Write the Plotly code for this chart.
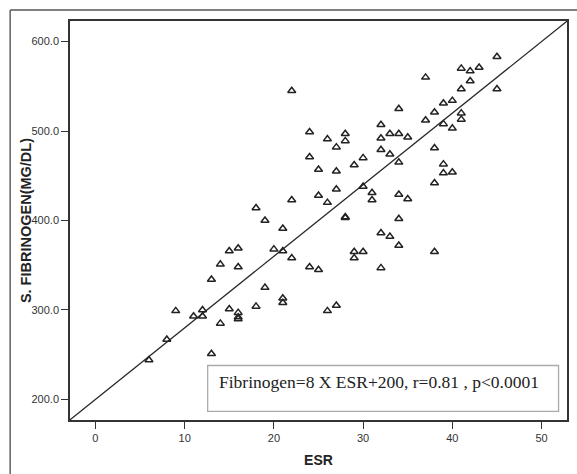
import plotly.graph_objects as go

esr = [45, 45, 43, 42, 41, 42, 41, 37, 34, 40, 39, 38, 41, 41, 37, 39, 40,
       22, 24, 28, 28, 26, 27, 32, 32, 33, 34, 35, 32, 33, 34, 38, 30, 24,
       29, 25, 27, 39, 39, 40, 38, 30, 27, 31, 31, 25, 26, 34, 35, 22, 18,
       19, 28, 28, 34, 21, 32, 33, 34, 20, 21, 15, 16, 29, 30, 38, 29, 22,
       14, 16, 24, 25, 32, 13, 19, 21, 21, 18, 27, 9, 12, 15, 26, 16, 16,
       16, 11, 12, 14, 8, 13, 6]
fibrinogen = [583, 547, 571, 567, 570, 556, 547, 560, 525, 534, 531, 521, 520,
              513, 512, 508, 503, 545, 499, 497, 489, 491, 482, 507, 492, 497,
              497, 493, 479, 474, 465, 481, 470, 471, 462, 457, 455, 463, 453,
              454, 442, 438, 435, 431, 423, 428, 420, 429, 424, 423, 414, 400,
              403, 404, 402, 391, 386, 382, 372, 368, 366, 366, 369, 365, 365,
              365, 358, 358, 351, 348, 348, 345, 347, 334, 325, 313, 308, 304,
              305, 299, 300, 301, 299, 297, 292, 290, 293, 293, 285, 267, 251,
              244]

slope = 8
intercept = 200
x_range = [-2.85, 52.85]
y_range = [177, 623]
x_ticks = [0, 10, 20, 30, 40, 50]
y_ticks = [200, 300, 400, 500, 600]
x_title = "ESR"
y_title = "S. FIBRINOGEN(MG/DL)"
annotation_text = "Fibrinogen=8 X ESR+200, r=0.81 , p<0.0001"

line_x = x_range
line_y = [slope * v + intercept for v in line_x]

fig = go.Figure()
fig.add_trace(go.Scatter(
    x=line_x, y=line_y, mode="lines",
    line=dict(color="#2a2a2a", width=1.3), hoverinfo="skip", showlegend=False))
fig.add_trace(go.Scatter(
    x=esr, y=fibrinogen, mode="markers",
    marker=dict(symbol="triangle-up-open", size=7, color="#222222",
                line=dict(width=1.5, color="#222222")),
    showlegend=False))

axis_common = dict(
    showline=True, mirror=True, linecolor="#333333", linewidth=1.6,
    showgrid=False, zeroline=False, ticks="outside", ticklen=7,
    tickwidth=1.3, tickcolor="#333333",
    tickfont=dict(family="Liberation Sans, Arial", size=11, color="#333333"),
)

fig.update_xaxes(range=x_range, tickvals=x_ticks,
                 title=dict(text="<b>" + x_title + "</b>", standoff=12,
                            font=dict(family="Liberation Sans, Arial", size=14, color="#222222")),
                 **axis_common)
fig.update_yaxes(range=y_range, tickvals=y_ticks, tickformat=".1f", **axis_common)

# y-axis title placed to match the reference
fig.add_annotation(xref="paper", yref="paper", x=-0.0893, y=0.5,
                   xanchor="center", yanchor="middle", textangle=-90,
                   showarrow=False, text="<b>" + y_title + "</b>",
                   font=dict(family="Liberation Sans, Arial", size=14.5, color="#222222"))

# statistics box
fig.add_shape(type="rect", xref="paper", yref="paper",
              x0=0.277, x1=0.983, y0=0.0215, y1=0.1366,
              line=dict(color="#aaaaaa", width=1.3), fillcolor="white", layer="below")
fig.add_annotation(xref="paper", yref="paper", x=0.295, y=0.094,
                   xanchor="left", yanchor="middle", showarrow=False,
                   text=annotation_text,
                   font=dict(family="Liberation Serif, Times New Roman", size=17.5, color="#222222"))

# outer frame of the figure
fig.add_shape(type="line", xref="paper", yref="paper",
              x0=-0.1204, x1=1.05, y0=1.0277, y1=1.0277,
              line=dict(color="#555555", width=1.4))
fig.add_shape(type="line", xref="paper", yref="paper",
              x0=-0.1204, x1=-0.1204, y0=-0.2, y1=1.0277,
              line=dict(color="#555555", width=1.4))

fig.update_layout(
    width=577, height=474,
    margin=dict(l=70, r=8.5, t=21.3, b=48),
    paper_bgcolor="white", plot_bgcolor="white",
)

fig.write_html(
    "out.html",
    config={"displayModeBar": False},
    post_script="document.body.style.margin='0';document.body.style.overflow='hidden';",
)
